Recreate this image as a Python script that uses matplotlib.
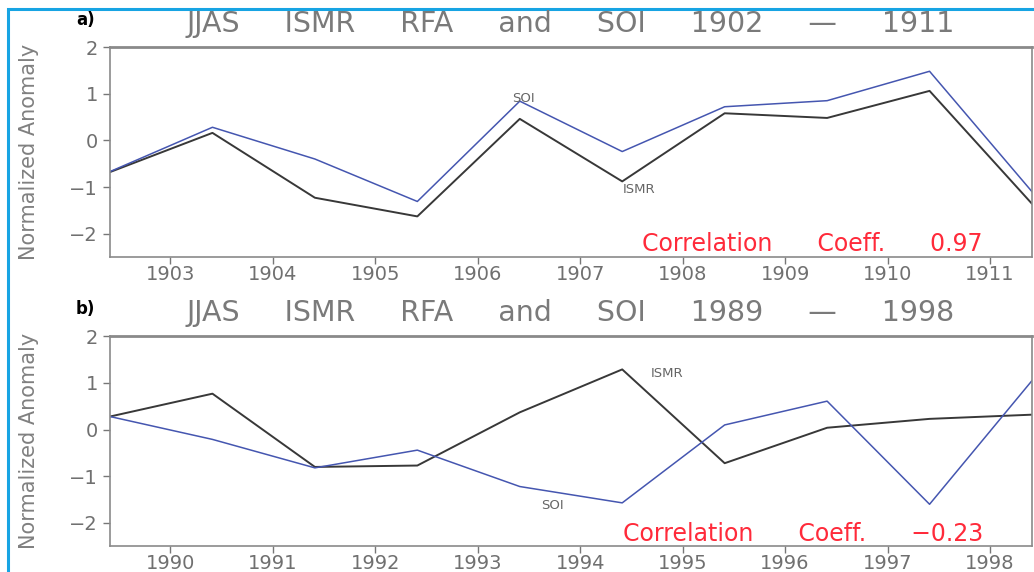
import matplotlib
matplotlib.use("Agg")
import matplotlib.pyplot as plt
from matplotlib.patches import Rectangle

# anos (valores plotados no meio da estação)
anos_a = [1902, 1903, 1904, 1905, 1906, 1907, 1908, 1909, 1910, 1911]
ismr_a = [-0.68, 0.16, -1.23, -1.63, 0.46, -0.88, 0.58, 0.48, 1.06, -1.36]
soi_a = [-0.67, 0.28, -0.40, -1.31, 0.84, -0.24, 0.72, 0.85, 1.48, -1.10]
corr_a = "0.97"

anos_b = [1989, 1990, 1991, 1992, 1993, 1994, 1995, 1996, 1997, 1998]
ismr_b = [0.28, 0.77, -0.80, -0.77, 0.37, 1.29, -0.72, 0.04, 0.23, 0.32]
soi_b = [0.28, -0.21, -0.82, -0.44, -1.22, -1.57, 0.10, 0.61, -1.60, 1.05]
corr_b = "\u22120.23"

desloc = 0.41  # posição dentro do ano
cinza = "#707070"
esp = "     "  # espaço largo entre palavras, como na fonte do GrADS

fig = plt.figure(figsize=(10.34, 5.72), dpi=100)
fig.patches.append(Rectangle((8 / 1034, -0.05), 1.2, 1 - 9 / 572 + 0.05,
                             transform=fig.transFigure, fill=False,
                             edgecolor="#17a4e3", linewidth=2.2))

paineis = [
    ("a)", anos_a, ismr_a, soi_a, corr_a, [0.5507, 0.3671]),
    ("b)", anos_b, ismr_b, soi_b, corr_b, [0.0450, 0.3671]),
]

for letra, anos, ismr, soi, corr, (base, altura) in paineis:
    ax = fig.add_axes([110 / 1034, base, 922 / 1034, altura])
    x = [a + desloc for a in anos]
    ax.plot(x, ismr, color="#383838", linewidth=1.4)
    ax.plot(x, soi, color="#4556b0", linewidth=1.1)
    ax.set_xlim(x[0], x[-1])
    ax.set_ylim(-2.5, 2)
    ax.set_xticks(anos[1:])
    ax.set_yticks([-2, -1, 0, 1, 2])
    ax.tick_params(colors="#777777", labelcolor=cinza, labelsize=14, length=5, width=1)
    ax.tick_params(axis="x", pad=0.5)
    for s in ax.spines.values():
        s.set_color("#8a8a8a")
        s.set_linewidth(1.2)
    ax.spines["top"].set_linewidth(2)
    ax.set_ylabel("Normalized Anomaly", color="#808080", fontsize=15,
                  family=["Liberation Sans Narrow", "DejaVu Sans"], labelpad=22)

    titulo = esp.join(["JJAS", "ISMR", "RFA", "and", "SOI", str(anos[0]), "\u2014", str(anos[-1])])
    topo = base + altura
    fig.text(0.552, topo + 0.04, titulo, ha="center", va="center",
             fontsize=20.5, color="#7a7a7a", family="DejaVu Sans")
    fig.text(76 / 1034, topo + 0.048, letra, ha="left", va="center",
             fontsize=12, fontweight="bold", color="black")
    ax.text((983 - 110) / 922, 0.06, "      ".join(["Correlation", "Coeff.", corr]),
            transform=ax.transAxes, ha="right", va="center", fontsize=17, color="#ff2a3a")

    if letra == "a)":
        ax.text(x[4] + 0.04, soi[4] + 0.06, "SOI", fontsize=9.5, color="#666666", ha="center", va="center")
        ax.text(x[5] + 0.16, ismr[5] - 0.18, "ISMR", fontsize=9.5, color="#666666", ha="center", va="center")
    else:
        ax.text(x[5] + 0.44, ismr[5] - 0.08, "ISMR", fontsize=9.5, color="#666666", ha="center", va="center")
        ax.text(x[4] + 0.32, soi[4] - 0.40, "SOI", fontsize=9.5, color="#666666", ha="center", va="center")

fig.savefig("out.png", dpi=100)
